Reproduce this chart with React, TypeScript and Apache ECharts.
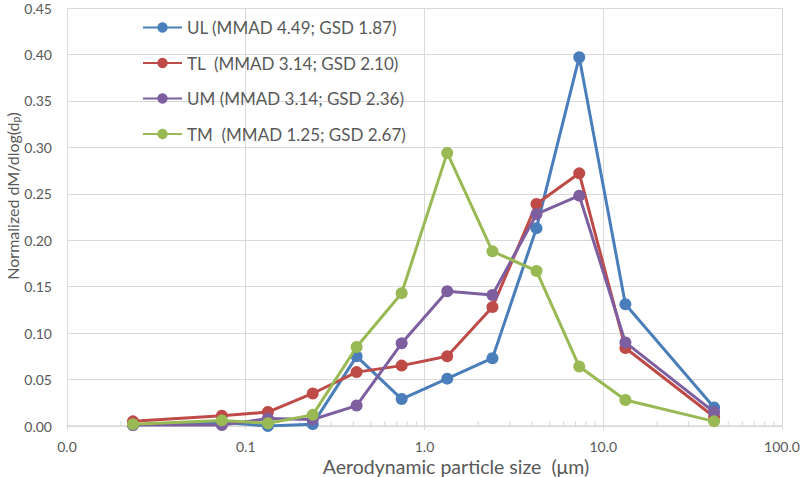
import React, { useEffect, useRef } from "react";
import * as echarts from "echarts";

const sizes = [0.0234, 0.0735, 0.133, 0.237, 0.417, 0.745, 1.34, 2.4, 4.23, 7.34, 13.3, 41.7];
const seriesNames = [
  "UL (MMAD 4.49; GSD 1.87)",
  "TL  (MMAD 3.14; GSD 2.10)",
  "UM (MMAD 3.14; GSD 2.36)",
  "TM  (MMAD 1.25; GSD 2.67)",
];
const ulValues = [0.001, 0.004, 0.0, 0.002, 0.075, 0.029, 0.051, 0.073, 0.213, 0.397, 0.131, 0.02];
const tlValues = [0.005, 0.011, 0.015, 0.035, 0.058, 0.065, 0.075, 0.128, 0.239, 0.272, 0.084, 0.01];
const umValues = [0.001, 0.001, 0.008, 0.007, 0.022, 0.089, 0.145, 0.141, 0.228, 0.248, 0.09, 0.015];
const tmValues = [0.002, 0.006, 0.003, 0.012, 0.085, 0.143, 0.294, 0.188, 0.167, 0.064, 0.028, 0.005];
const colors = ["#4A7EBB", "#BE4B48", "#7D5FA0", "#98B954"];
const minorTickValues = [
  0.02, 0.03, 0.04, 0.05, 0.06, 0.07, 0.08, 0.09,
  0.2, 0.3, 0.4, 0.5, 0.6, 0.7, 0.8, 0.9,
  2, 3, 4, 5, 6, 7, 8, 9,
  20, 30, 40, 50, 60, 70, 80, 90,
];
const xTitle = "Aerodynamic particle size  (μm)";
const yTitle = "Normalized dM/dlog(d{sub|p})";

const FONT = "Lato, 'Open Sans', sans-serif";
const TEXT = "#595959";

export default function App() {
  const ref = useRef<HTMLDivElement>(null);
  useEffect(() => {
    document.body.style.margin = "0";
    if (!ref.current) return;
    const chart = echarts.init(ref.current, undefined, { renderer: "svg" });
    const all = [ulValues, tlValues, umValues, tmValues];
    const lineSeries = all.map((vals, i) => ({
      name: seriesNames[i],
      type: "line",
      data: sizes.map((s, j) => [s, vals[j]]),
      symbol: "circle",
      symbolSize: 12,
      lineStyle: { width: 3, color: colors[i] },
      itemStyle: { color: colors[i] },
      z: 3 + i,
    }));
    chart.setOption({
      animation: false,
      textStyle: { fontFamily: FONT },
      grid: {
        left: 67,
        right: 18,
        top: 8,
        bottom: 51,
        containLabel: false,
        outerBoundsMode: "none",
      },
      legend: {
        data: seriesNames,
        orient: "vertical",
        left: 137,
        top: 14,
        itemWidth: 39,
        itemHeight: 13,
        itemGap: 18.5,
        textStyle: { fontSize: 17, color: TEXT, fontFamily: FONT },
      },
      graphic: [
        {
          type: "text",
          x: 456,
          y: 466,
          silent: true,
          style: {
            text: xTitle,
            fill: TEXT,
            font: `19.5px ${FONT}`,
            align: "center",
            verticalAlign: "middle",
          },
        },
        {
          type: "text",
          x: 12,
          y: 196,
          rotation: Math.PI / 2,
          silent: true,
          style: {
            text: yTitle,
            fill: TEXT,
            font: `16px ${FONT}`,
            align: "center",
            verticalAlign: "middle",
            rich: {
              sub: { fontSize: 10.5, fill: TEXT, fontFamily: FONT, padding: [8, 0, 0, 0] },
            },
          },
        },
      ],
      xAxis: {
        type: "log",
        logBase: 10,
        min: 0.01,
        max: 100,
        axisLine: { show: true, lineStyle: { color: "#D9D9D9", width: 1.5 } },
        axisTick: { show: true, length: 4, lineStyle: { color: "#D9D9D9" } },
        axisLabel: {
          color: TEXT,
          fontSize: 14,
          margin: 13,
          fontFamily: FONT,
          formatter: (v: number) => v.toFixed(1),
        },
        splitLine: { show: true, lineStyle: { color: "#D9D9D9", width: 1 } },
      },
      yAxis: {
        type: "value",
        min: 0,
        max: 0.45,
        interval: 0.05,
        axisLine: { show: false },
        axisTick: { show: false },
        axisLabel: {
          color: TEXT,
          fontSize: 14,
          margin: 15,
          fontFamily: FONT,
          formatter: (v: number) => v.toFixed(2),
        },
        splitLine: { show: true, lineStyle: { color: "#D9D9D9", width: 1 } },
      },
      series: [
        {
          name: "minorTicks",
          type: "scatter",
          data: minorTickValues.map((v) => [v, 0]),
          symbol: "rect",
          symbolSize: [1, 5],
          symbolOffset: [0, -2.5],
          itemStyle: { color: "#D0D0D0" },
          silent: true,
          z: 1,
        },
        ...lineSeries,
      ],
    });
    return () => chart.dispose();
  }, []);
  return <div ref={ref} style={{ width: 800, height: 477 }} />;
}
